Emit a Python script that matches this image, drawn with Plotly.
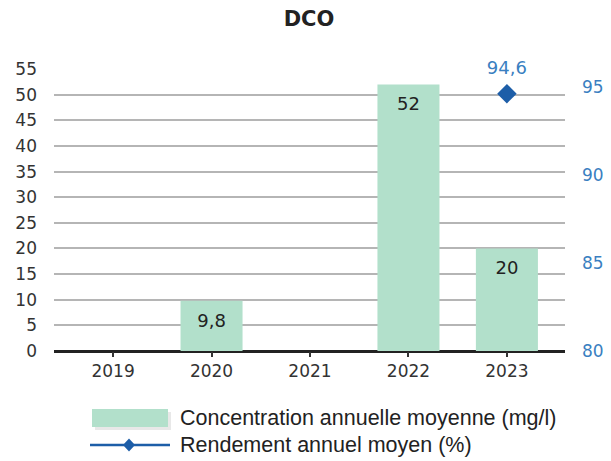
import plotly.graph_objects as go

years = ["2019", "2020", "2021", "2022", "2023"]
concentration = [None, 9.8, None, 52, 20]
rendement = [None, None, None, None, 94.6]
left_ticks = [0, 5, 10, 15, 20, 25, 30, 35, 40, 45, 50, 55]
right_ticks = [80, 85, 90, 95]

bar_color = "#b2e0cb"
line_color = "#1d5ea8"
label_blue = "#3a7fc1"
tick_font = "DejaVu Sans"

def fmt(v):
    return "" if v is None else f"{v:g}".replace(".", ",")

fig = go.Figure()
fig.add_trace(go.Bar(
    x=years, y=concentration, name="Concentration annuelle moyenne (mg/l)",
    marker=dict(color=bar_color, line=dict(width=0)), width=0.63,
    showlegend=False, hoverinfo="skip",
))
# bar value labels, placed just under the top of each bar
fig.add_trace(go.Scatter(
    x=years, y=concentration, mode="markers+text",
    marker=dict(size=18, opacity=0),
    text=[fmt(v) for v in concentration], textposition="bottom center",
    textfont=dict(family=tick_font, size=18, color="#222222"),
    showlegend=False, hoverinfo="skip", cliponaxis=False,
))
fig.add_trace(go.Scatter(
    x=years, y=rendement, yaxis="y2", mode="lines+markers",
    name="Rendement annuel moyen (%)",
    line=dict(color=line_color, width=2),
    marker=dict(symbol="diamond", size=15, color=line_color),
    showlegend=False, cliponaxis=False,
))
fig.add_trace(go.Scatter(
    x=years, y=rendement, yaxis="y2", mode="markers+text",
    marker=dict(size=22, opacity=0),
    text=[fmt(v) for v in rendement], textposition="top center",
    textfont=dict(family=tick_font, size=18, color=label_blue),
    showlegend=False, hoverinfo="skip", cliponaxis=False,
))

fig.update_layout(
    width=603, height=453,
    margin=dict(l=46, r=46, t=61, b=110),
    paper_bgcolor="white", plot_bgcolor="white",
    title=dict(text="<b>DCO</b>", x=(309 - 8) / 603, xanchor="center", y=1 - 11 / 453, yanchor="middle",
               font=dict(family="DejaVu Sans", size=21, color="#222222")),
    xaxis=dict(
        type="category", range=[-0.6, 4.59], automargin=False,
        tickfont=dict(family=tick_font, size=17, color="#333333"),
        showline=False, ticks="outside", ticklen=5, tickcolor="#333333", tickwidth=2,
        showgrid=False,
    ),
    yaxis=dict(
        range=[0, 55], tickvals=left_ticks, showgrid=True, gridcolor="#b5b5b5", gridwidth=1.5,
        zeroline=True, zerolinecolor="#222222", zerolinewidth=3, automargin=False,
        tickfont=dict(family=tick_font, size=17, color="#333333"),
        ticklabelstandoff=16,
    ),
    yaxis2=dict(
        range=[80, 96], tickvals=right_ticks, overlaying="y", side="right",
        showgrid=False, zeroline=False, automargin=False,
        tickfont=dict(family=tick_font, size=17, color=label_blue),
        ticklabelstandoff=16,
    ),
)

# custom legend (page px -> paper fractions of the plot area 54..565 x 69..351)
def px(x):
    return (x - 54) / 511

def py(y):
    return (351 - y) / 282

fig.add_shape(type="rect", xref="paper", yref="paper",
              x0=px(95), x1=px(171), y0=py(430), y1=py(412),
              fillcolor="#e8e8e8", line=dict(width=0))
fig.add_shape(type="rect", xref="paper", yref="paper",
              x0=px(92), x1=px(168), y0=py(427), y1=py(409),
              fillcolor=bar_color, line=dict(width=0))
fig.add_shape(type="line", xref="paper", yref="paper",
              x0=px(90), x1=px(170), y0=py(445), y1=py(445),
              line=dict(color=line_color, width=2.5))
cx, cy, hw, hh = 129, 445, 6, 6.5
fig.add_shape(type="path", xref="paper", yref="paper",
              path=(f"M {px(cx - hw)},{py(cy)} L {px(cx)},{py(cy - hh)} "
                    f"L {px(cx + hw)},{py(cy)} L {px(cx)},{py(cy + hh)} Z"),
              fillcolor=line_color, line=dict(width=0))
fig.add_annotation(xref="paper", yref="paper", x=px(178), y=py(418),
                   xanchor="left", yanchor="middle", showarrow=False,
                   text="Concentration annuelle moyenne (mg/l)",
                   font=dict(family="Liberation Sans", size=21.5, color="#222222"))
fig.add_annotation(xref="paper", yref="paper", x=px(178), y=py(445),
                   xanchor="left", yanchor="middle", showarrow=False,
                   text="Rendement annuel moyen (%)",
                   font=dict(family="Liberation Sans", size=21.5, color="#222222"))

fig.write_html("out.html")
